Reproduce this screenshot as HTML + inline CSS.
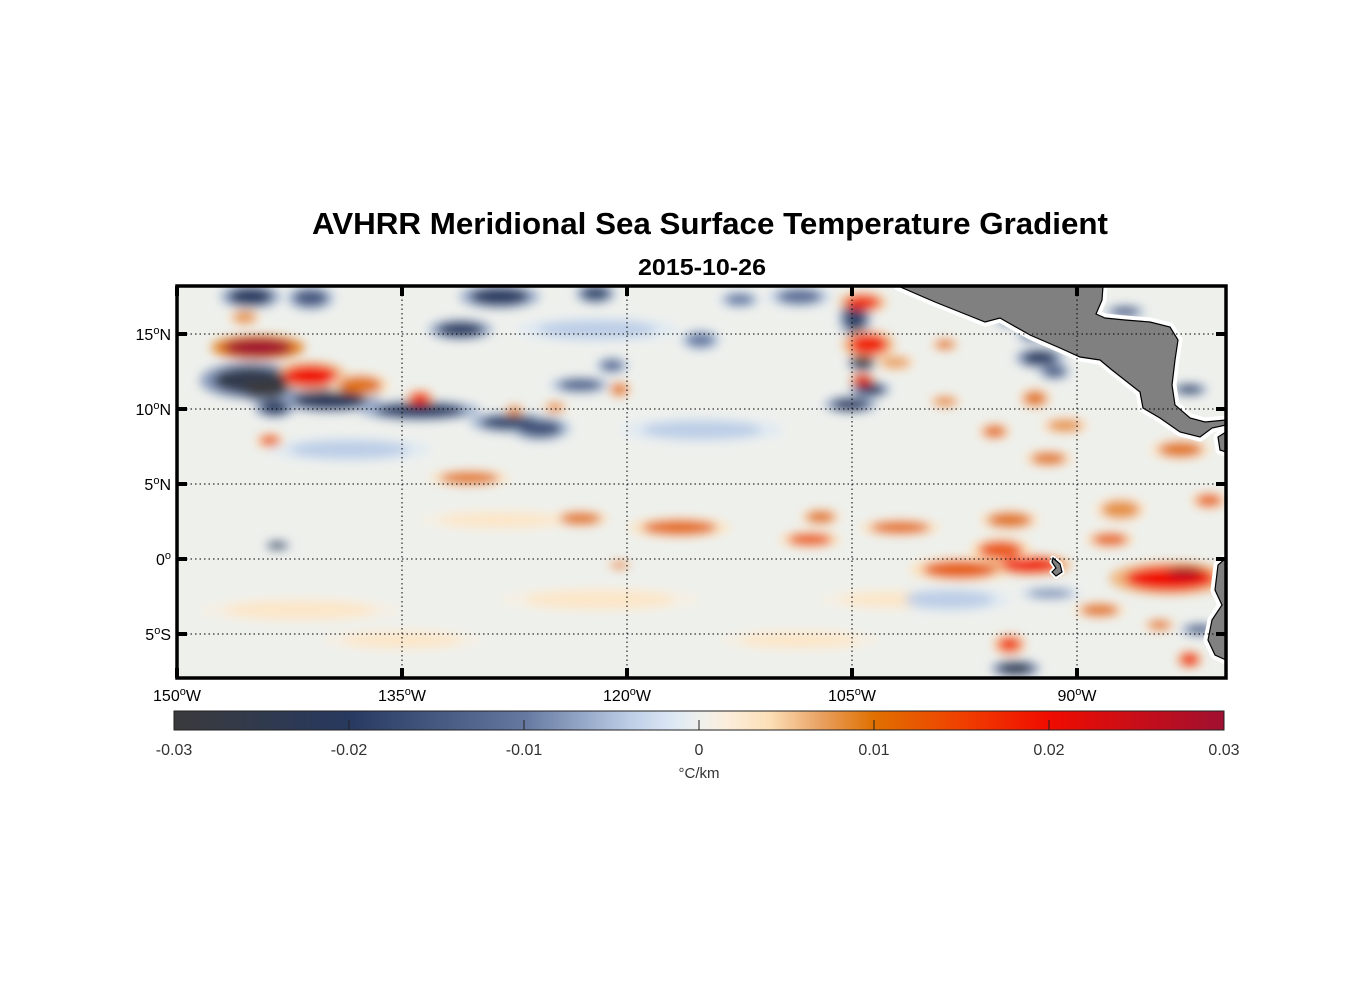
<!DOCTYPE html>
<html><head><meta charset="utf-8"><style>
body{margin:0;background:#fff;}
svg{display:block;font-family:"Liberation Sans",Arial,sans-serif;}
</style></head><body>
<svg id="fig" width="1356" height="1000" viewBox="0 0 1356 1000">
<defs>
<filter id="blur" x="-50%" y="-50%" width="200%" height="200%"><feGaussianBlur stdDeviation="5"/></filter>
<clipPath id="mapclip"><rect x="177" y="286" width="1049" height="392"/></clipPath>
<linearGradient id="cbgrad" x1="0" x2="1" y1="0" y2="0"></linearGradient>
</defs>
<text x="710" y="234" text-anchor="middle" font-size="31" font-weight="bold" textLength="796" lengthAdjust="spacingAndGlyphs">AVHRR Meridional Sea Surface Temperature Gradient</text>
<text x="702" y="275" text-anchor="middle" font-size="23" font-weight="bold" textLength="128" lengthAdjust="spacingAndGlyphs">2015-10-26</text>
<rect x="177" y="286" width="1049" height="392" fill="#eef0ec"/>
<g id="blobs" clip-path="url(#mapclip)"><g id="blobsInner" filter="url(#blur)"></g></g>
<g id="land" clip-path="url(#mapclip)"></g>
<g id="grid"></g>
<rect x="177" y="286" width="1049" height="392" fill="none" stroke="#000" stroke-width="3.5"/>
<g id="ticks"></g>
<rect x="174" y="711" width="1050" height="19" fill="url(#cbgrad)" stroke="#222" stroke-width="1"/>
<g id="cbticks"></g>
<text x="699" y="778" text-anchor="middle" font-size="15" fill="#333">°C/km</text>
</svg>
<script>
const NS="http://www.w3.org/2000/svg";
// colormap stops
const cmapVals=[-0.03,-0.02,-0.01,-0.004,-0.0015,0,0.0015,0.004,0.007,0.01,0.015,0.02,0.03];
const cmapCols=["#3a3a3c","#27395f","#6478a0","#bccde6","#dde8f5","#eef0ec","#fbeedd","#fde0b8","#e8a060","#e07000","#f04000","#f00c00","#a01030"];
// blob field data
const blobLon=[-145.1,-141.1,-128.5,-122.1,-108.5,-145.1,-144.1,-139.8,-133.8,-127.8,-125.8,-131.1,-143.5,-123.1,-121,-104.8,-104.3,-103.8,-105.1,-92.5,-91.5,-93.1,-86.8,-82.5,-94.1,-81.8,-143.3,-91.8,-115.1,-112.5,-94.5,
-141.8,-121.8,-128.5,-101.8,-135,-108.5,-138.5,-115,-122,-98.5,
-144.6,-141.1,-137.8,-133.8,-143.8,-145.5,-120.5,-124.8,-127.5,-104.3,-103.9,-104.3,-130.5,-123.1,-116.5,-107.8,-107.1,-101.8,-97.8,-93.1,-95.1,-83.8,-82.8,-94.5,-83.1,-95.5,-92.8,-98.8,-91.9,-94.5,-82.5,-84.5,-88.5,-120.5,-87.1,-81.2,-102.1,-87.8,-98.8,-90.8];
const blobLat=[17.5,17.4,17.5,17.7,17.5,11.9,11.3,10.6,9.9,9.1,8.7,15.3,10.1,11.6,12.9,16.1,13.1,11.3,10.3,13.4,12.5,14.9,16.5,11.3,-7.3,-4.7,0.9,-2.3,14.6,17.3,15.9,
-3.4,-2.7,2.6,-2.7,-5.4,-5.4,7.3,8.6,15.3,-2.7,
14.1,12.2,11.6,10.7,7.9,16.1,11.3,10.1,9.9,17.1,14.3,11.9,5.4,2.7,2.1,1.3,2.8,2.1,-0.7,-0.4,0.6,-1.3,-0.9,2.6,7.3,8.5,10.7,10.5,6.7,-5.7,-6.7,-4.4,-3.4,-0.4,3.3,3.9,13.1,1.3,14.3,8.9];
const blobVal=[-0.02,-0.015,-0.02,-0.018,-0.012,-0.025,-0.03,-0.022,-0.02,-0.018,-0.016,-0.02,-0.02,-0.014,-0.012,-0.018,-0.028,-0.02,-0.02,-0.02,-0.015,-0.012,-0.015,-0.018,-0.025,-0.015,-0.025,-0.008,-0.01,-0.01,-0.01,
0.003,0.003,0.003,0.003,0.003,0.003,-0.004,-0.004,-0.004,-0.004,
0.03,0.02,0.01,0.017,0.013,0.008,0.01,0.009,0.009,0.017,0.018,0.022,0.01,0.01,0.011,0.013,0.01,0.011,0.012,0.02,0.013,0.02,0.028,0.01,0.01,0.011,0.01,0.009,0.01,0.016,0.02,0.01,0.01,0.01,0.008,0.012,0.007,0.012,0.01,0.008];
const blobRx=[1.5,1.2,2,1,1.5,2.5,1.5,2.5,3,2,1.5,1.6,1,1.5,0.8,0.8,0.7,1,1.3,1.2,0.8,0.7,1,0.9,1.2,1,0.6,1.5,1,1,0.7,
5,5,4,4,4,4,4,4,4,3,
2.3,1.8,1.5,0.7,0.7,0.8,0.6,0.6,0.5,1.2,1.3,0.6,2,1.4,2.5,1.5,1,2,2.5,2,1.5,3,1.2,1.5,1.5,0.8,0.8,0.8,1.2,0.8,0.6,0.8,1.3,0.6,1.3,0.9,1,1.2,0.7,1.2];
const blobRy=[0.6,0.6,0.6,0.5,0.5,0.9,0.6,0.6,0.5,0.5,0.6,0.5,0.5,0.4,0.4,1,0.4,0.4,0.4,0.5,0.4,0.3,0.3,0.3,0.4,0.3,0.2,0.3,0.5,0.4,0.3,
0.6,0.6,0.5,0.5,0.5,0.5,0.6,0.6,0.6,0.6,
0.6,0.7,0.6,0.4,0.35,0.4,0.4,0.3,0.3,0.5,0.7,0.35,0.4,0.4,0.5,0.4,0.4,0.4,0.6,0.5,0.6,0.8,0.4,0.5,0.5,0.4,0.5,0.3,0.4,0.5,0.4,0.3,0.4,0.2,0.6,0.4,0.4,0.4,0.3,0.4];
const lonTicks=[-150,-135,-120,-105,-90];
const lonTickLabels=["150","135","120","105","90"];
const latTicks=[15,10,5,0,-5];
const latTickLabels=["15","10","5","0","5"];
const latHemi=["N","N","N","","S"];
const cbTicks=[-0.03,-0.02,-0.01,0,0.01,0.02,0.03];
const cbTickLabels=["-0.03","-0.02","-0.01","0","0.01","0.02","0.03"];

const X0=177,PXD=15,Y0=559;
function xs(lon){return X0+(lon+150)*PXD;}
function ys(lat){return Y0-lat*PXD;}
function cbx(v){return 174+(v+0.03)/0.06*1050;}
function hex(c){return [1,3,5].map(i=>parseInt(c.substr(i,2),16));}
function cmap(v){
  v=Math.max(-0.03,Math.min(0.03,v));
  for(let i=0;i<cmapVals.length-1;i++){
    if(v<=cmapVals[i+1]){const t=(v-cmapVals[i])/(cmapVals[i+1]-cmapVals[i]);
      const a=hex(cmapCols[i]),b=hex(cmapCols[i+1]);
      return "rgb("+a.map((c,k)=>Math.round(c+(b[k]-c)*t)).join(",")+")";}
  }
  return cmapCols[cmapCols.length-1];
}
const grad=document.getElementById("cbgrad");
cmapVals.forEach((v,i)=>{const s=document.createElementNS(NS,"stop");s.setAttribute("offset",((v+0.03)/0.06*100)+"%");s.setAttribute("stop-color",cmapCols[i]);grad.appendChild(s);});
const bg=document.getElementById("blobsInner");
[[1.35,0.3],[1.0,1.0]].forEach(([sc,f])=>{
  for(let i=0;i<blobLon.length;i++){
    const e=document.createElementNS(NS,"ellipse");
    
    
    e.setAttribute("cx",xs(blobLon[i]));e.setAttribute("cy",ys(blobLat[i]));
    e.setAttribute("rx",blobRx[i]*PXD*sc);e.setAttribute("ry",blobRy[i]*PXD*sc);
    e.setAttribute("fill",cmap(blobVal[i]*f));
    bg.appendChild(e);
  }
});
const land=document.getElementById("land");
const polys=[
"898,286 935,302 970,316 985,322 1000,318 1030,335 1060,348 1080,357 1100,360 1112,370 1140,392 1143,408 1160,418 1180,432 1200,437 1212,428 1226,425 1226,420 1205,422 1190,418 1175,405 1172,385 1175,360 1178,340 1170,327 1150,322 1125,320 1105,318 1096,314 1102,300 1103,286",
"1226,432 1218,437 1220,450 1226,452",
"1226,558 1218,565 1215,590 1222,605 1212,620 1208,640 1215,655 1226,660",
"1053,558 1060,564 1062,572 1056,576 1052,572 1056,568 1052,562"];
const halo=[9,9,9,5];
polys.forEach((p,i)=>{
  const w=document.createElementNS(NS,"polygon");
  
  
  w.setAttribute("points",p);w.setAttribute("fill","#fff");w.setAttribute("stroke","#fff");w.setAttribute("stroke-width",halo[i]);w.setAttribute("stroke-linejoin","round");
  land.appendChild(w);
});
polys.forEach(p=>{
  const g=document.createElementNS(NS,"polygon");
  
  
  g.setAttribute("points",p);g.setAttribute("fill","#808080");g.setAttribute("stroke","#000");g.setAttribute("stroke-width","1.2");
  land.appendChild(g);
});
const grid=document.getElementById("grid"),tk=document.getElementById("ticks");
function line(par,x1,y1,x2,y2,attrs,name){const l=document.createElementNS(NS,"line");
  
  
  l.setAttribute("x1",x1);l.setAttribute("y1",y1);l.setAttribute("x2",x2);l.setAttribute("y2",y2);
  for(const k in attrs)l.setAttribute(k,attrs[k]);par.appendChild(l);}
const dot={stroke:"#000","stroke-width":"1","stroke-dasharray":"1.5 3"};
const tkA={stroke:"#000","stroke-width":"4"};
lonTicks.forEach((lon,i)=>{
  const x=xs(lon);
  line(grid,x,286,x,678,dot,"meridian-line");
  line(tk,x,286,x,296,tkA,"lon-tick-top");
  line(tk,x,668,x,678,tkA,"lon-tick-bottom");
  const t=document.createElementNS(NS,"text");
  
  
  t.setAttribute("x",x);t.setAttribute("y",701);t.setAttribute("text-anchor","middle");t.setAttribute("font-size","16");
  t.innerHTML=lonTickLabels[i]+'<tspan dy="-6" font-size="11">o</tspan><tspan dy="6">W</tspan>';
  tk.appendChild(t);
});
latTicks.forEach((lat,i)=>{
  const y=ys(lat);
  line(grid,177,y,1226,y,dot,"parallel-line");
  line(tk,177,y,187,y,tkA,"lat-tick-left");
  line(tk,1216,y,1226,y,tkA,"lat-tick-right");
  const t=document.createElementNS(NS,"text");
  
  
  t.setAttribute("x",171);t.setAttribute("y",y+6);t.setAttribute("text-anchor","end");t.setAttribute("font-size","16");
  t.innerHTML=latTickLabels[i]+'<tspan dy="-6" font-size="11">o</tspan><tspan dy="6">'+latHemi[i]+'</tspan>';
  tk.appendChild(t);
});
const cbt=document.getElementById("cbticks");
cbTicks.forEach((v,i)=>{
  const x=cbx(v);
  if(i>0&&i<cbTicks.length-1){line(cbt,x,720,x,730,{stroke:"#222","stroke-width":"1"},"colorbar-tick");}
  const t=document.createElementNS(NS,"text");
  
  
  t.setAttribute("x",x);t.setAttribute("y",755);t.setAttribute("text-anchor","middle");t.setAttribute("font-size","16");t.setAttribute("fill","#333");
  t.textContent=cbTickLabels[i];cbt.appendChild(t);
});
</script>
</body></html>
